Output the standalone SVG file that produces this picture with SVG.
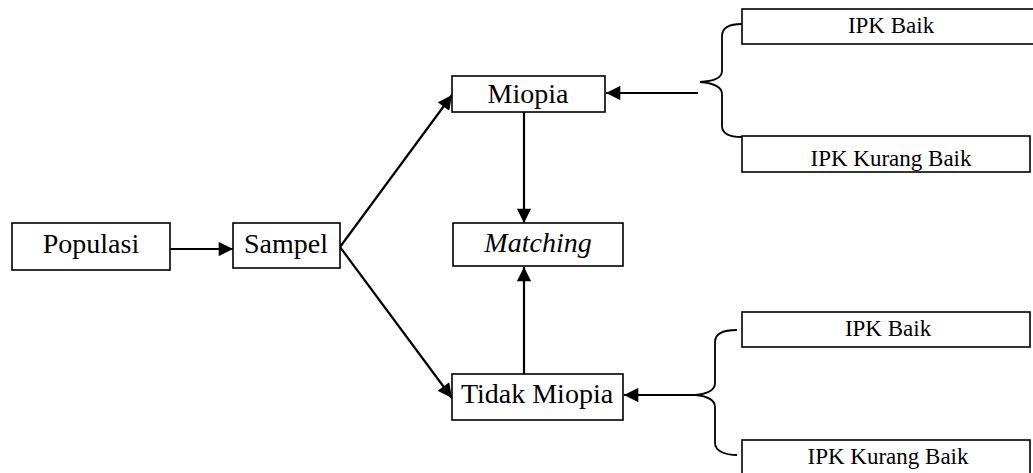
<svg xmlns="http://www.w3.org/2000/svg" width="1033" height="473" viewBox="0 0 1033 473">
  <style>
    .box { fill: #ffffff; stroke: #000000; stroke-width: 1.6; }
    .lbl { font-family: 'Liberation Serif', 'DejaVu Serif', serif; font-size: 28px; fill: #000000; text-anchor: middle; }
    .small { font-family: 'Liberation Serif', 'DejaVu Serif', serif; font-size: 23px; fill: #000000; text-anchor: middle; }
    .arrow { fill: none; stroke: #000000; stroke-width: 2.2; marker-end: url(#head); }
    .brace { fill: none; stroke: #000000; stroke-width: 1.8; }
  </style>
  <defs>
    <marker id="head" viewBox="0 0 10 10" refX="10" refY="5" markerWidth="7" markerHeight="6.5" markerUnits="strokeWidth" orient="auto">
      <path d="M0,0 L10,5 L0,10 Z" fill="#000000"/>
    </marker>
  </defs>

  <g id="connectors">
    <line class="arrow" x1="170" y1="249" x2="233" y2="249"/>
    <line class="arrow" x1="340" y1="247" x2="452" y2="95"/>
    <line class="arrow" x1="340" y1="247" x2="452" y2="398"/>
    <line class="arrow" x1="524" y1="112" x2="524" y2="223"/>
    <line class="arrow" x1="524" y1="374" x2="524" y2="267"/>
    <line class="arrow" x1="698" y1="93" x2="606" y2="93"/>
    <line class="arrow" x1="695" y1="395" x2="624" y2="395"/>
    <!-- braces grouping the IPK categories -->
    <path class="brace" d="M742,24 C730,24 722,27 722,36 L722,71 C722,79 712,81 700,82 C712,83 722,86 722,94 L722,126 C722,134 730,137 742,137"/>
    <path class="brace" d="M737,330 C725,330 715,333 715,342 L715,383 C715,391 706,394 695,395 C706,396 715,399 715,407 L715,443 C715,451 725,455 737,455"/>
  </g>

  <g id="populasi">
    <rect class="box" x="12" y="223" width="158" height="47"/>
    <text class="lbl" x="91" y="253">Populasi</text>
  </g>
  <g id="sampel">
    <rect class="box" x="233" y="223" width="107" height="45"/>
    <text class="lbl" x="286" y="253">Sampel</text>
  </g>
  <g id="miopia">
    <rect class="box" x="452" y="76" width="153" height="36"/>
    <text class="lbl" x="528" y="103">Miopia</text>
  </g>
  <g id="matching">
    <rect class="box" x="453" y="223" width="170" height="43"/>
    <text class="lbl" x="538" y="252" font-style="italic">Matching</text>
  </g>
  <g id="tidak-miopia">
    <rect class="box" x="452" y="374" width="171" height="46"/>
    <text class="lbl" x="537" y="403">Tidak Miopia</text>
  </g>
  <g id="ipk-baik-1">
    <rect class="box" x="742" y="9" width="295" height="35"/>
    <text class="small" x="891" y="33">IPK Baik</text>
  </g>
  <g id="ipk-kurang-baik-1">
    <rect class="box" x="742" y="136" width="288" height="36"/>
    <text class="small" x="891" y="166">IPK Kurang Baik</text>
  </g>
  <g id="ipk-baik-2">
    <rect class="box" x="742" y="312" width="288" height="35"/>
    <text class="small" x="888" y="336">IPK Baik</text>
  </g>
  <g id="ipk-kurang-baik-2">
    <rect class="box" x="742" y="440" width="288" height="36"/>
    <text class="small" x="888" y="464">IPK Kurang Baik</text>
  </g>
</svg>
